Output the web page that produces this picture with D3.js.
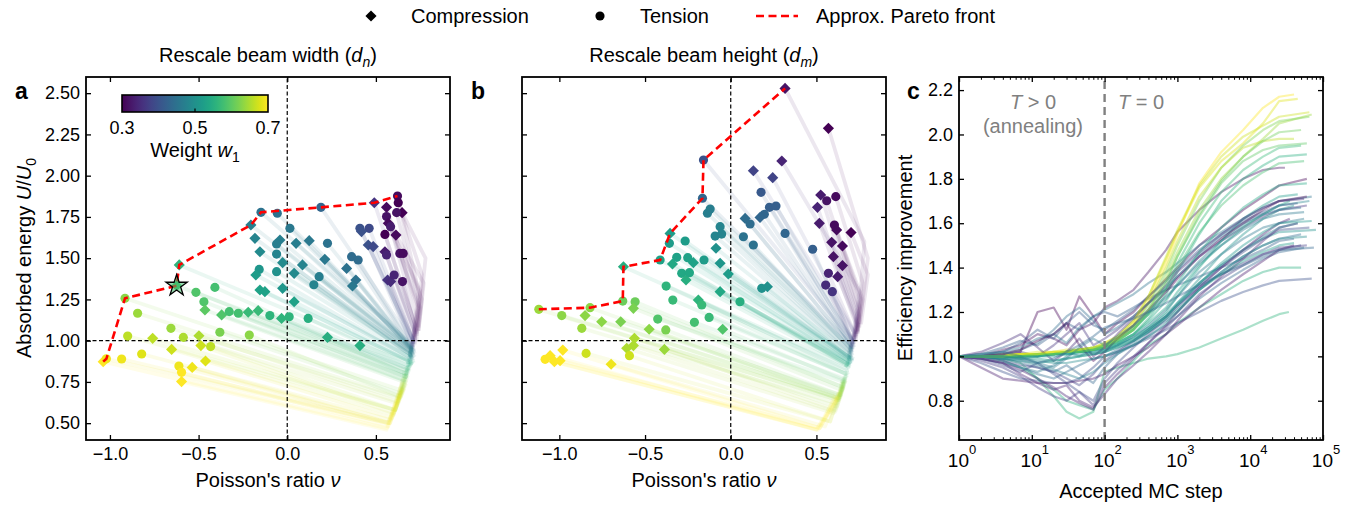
<!DOCTYPE html>
<html>
<head>
<meta charset="utf-8">
<script src="https://d3js.org/d3.v7.min.js"></script>
<style>
body { margin: 0; background: #fff; }
svg text { font-family: "Liberation Sans", Arial, Helvetica, sans-serif; fill: #000; }
</style>
</head>
<body>
<svg class="target" width="1361" height="506"></svg>
<script>

// ---- data ----
// rows: [nu, U/U0, weight w1, marker ('D' compression, 'o' tension), knee nu, knee U, start nu, start U]
const pointsA = [
  [0.622,1.877,0.31,'o',0.74,1.30,0.72,1.02],[0.491,1.836,0.36,'D',0.72,1.10,0.70,0.98],[0.626,1.836,0.30,'o',0.76,1.40,0.73,1.05],
  [0.560,1.808,0.31,'D',0.73,1.20,0.71,1.00],[0.648,1.776,0.30,'D',0.78,1.50,0.74,1.08],[0.617,1.776,0.32,'o',0.74,1.25,0.72,0.99],
  [0.190,1.808,0.43,'o',0.70,1.00,0.71,0.94],[-0.148,1.778,0.45,'o',0.70,0.98,0.69,0.92],[-0.056,1.772,0.45,'o',0.70,0.97,0.70,0.93],
  [-0.205,1.701,0.47,'D',0.69,0.95,0.70,0.90],[-0.609,1.459,0.56,'D',0.68,0.88,0.68,0.86],[-0.624,1.333,0.58,'D',0.67,0.82,0.67,0.84],
  [-0.915,1.257,0.63,'o',0.64,0.70,0.66,0.80],[-1.038,0.873,0.70,'D',0.56,0.47,0.64,0.72],[-1.020,0.890,0.69,'o',0.57,0.50,0.65,0.75],
  [0.560,1.752,0.32,'o',0.74,1.20,0.71,1.01],[0.570,1.711,0.31,'D',0.75,1.30,0.73,1.04],[0.583,1.691,0.33,'o',0.72,1.15,0.71,0.98],
  [0.613,1.640,0.31,'D',0.77,1.35,0.74,1.06],[0.551,1.644,0.30,'o',0.72,1.10,0.72,1.00],[0.551,1.539,0.33,'D',0.72,1.05,0.70,0.97],
  [0.560,1.519,0.34,'o',0.71,1.05,0.71,0.99],[0.635,1.529,0.32,'o',0.75,1.20,0.73,1.03],[0.654,1.529,0.31,'o',0.76,1.25,0.74,1.06],
  [0.566,1.368,0.36,'D',0.71,1.00,0.70,0.95],[0.583,1.358,0.35,'D',0.71,1.00,0.71,0.96],[0.603,1.398,0.34,'o',0.72,1.05,0.72,0.98],
  [0.650,1.358,0.32,'o',0.73,1.05,0.73,1.00],[0.410,1.681,0.40,'o',0.71,1.00,0.70,0.95],[0.462,1.681,0.39,'o',0.71,1.00,0.71,0.96],
  [0.419,1.661,0.40,'D',0.71,1.00,0.72,0.97],[0.457,1.580,0.40,'D',0.70,0.98,0.70,0.94],[0.485,1.570,0.39,'D',0.70,0.98,0.71,0.95],
  [0.363,1.509,0.44,'o',0.70,0.96,0.69,0.92],[0.400,1.489,0.44,'o',0.70,0.96,0.70,0.93],[0.335,1.438,0.45,'D',0.70,0.95,0.71,0.91],
  [0.387,1.368,0.45,'D',0.70,0.95,0.69,0.90],[0.368,1.331,0.46,'D',0.70,0.94,0.70,0.89],[0.227,1.590,0.45,'o',0.70,0.96,0.72,0.92],
  [0.212,1.493,0.46,'D',0.70,0.95,0.69,0.91],[0.180,1.388,0.47,'o',0.70,0.94,0.71,0.90],[0.150,1.339,0.48,'o',0.70,0.93,0.70,0.88],
  [0.124,1.606,0.46,'D',0.70,0.95,0.72,0.93],[0.050,1.590,0.47,'D',0.70,0.95,0.70,0.91],[-0.041,1.610,0.47,'D',0.70,0.95,0.71,0.92],
  [-0.060,1.586,0.47,'o',0.70,0.95,0.69,0.90],[0.015,1.681,0.46,'o',0.70,0.96,0.72,0.94],[-0.060,1.525,0.48,'o',0.69,0.93,0.70,0.89],
  [-0.026,1.473,0.49,'D',0.69,0.92,0.71,0.88],[-0.060,1.418,0.50,'o',0.69,0.92,0.69,0.87],[0.039,1.408,0.49,'D',0.69,0.92,0.70,0.88],
  [0.086,1.459,0.48,'D',0.70,0.93,0.72,0.90],[-0.026,1.317,0.51,'D',0.69,0.90,0.68,0.86],[0.039,1.236,0.53,'D',0.69,0.88,0.70,0.85],
  [-0.182,1.620,0.48,'D',0.69,0.93,0.70,0.90],[-0.154,1.539,0.49,'D',0.69,0.92,0.71,0.89],[-0.158,1.432,0.51,'o',0.69,0.90,0.69,0.86],
  [-0.177,1.398,0.52,'D',0.69,0.90,0.70,0.86],[-0.154,1.307,0.53,'D',0.68,0.88,0.68,0.84],[-0.126,1.297,0.53,'D',0.68,0.88,0.69,0.85],
  [-0.408,1.323,0.58,'o',0.67,0.80,0.68,0.83],[-0.515,1.293,0.59,'o',0.67,0.78,0.67,0.82],[-0.470,1.236,0.59,'o',0.66,0.76,0.68,0.81],
  [-0.464,1.186,0.60,'D',0.66,0.75,0.67,0.80],[-0.370,1.156,0.59,'D',0.66,0.76,0.66,0.82],[-0.327,1.176,0.58,'o',0.67,0.78,0.68,0.84],
  [-0.276,1.166,0.58,'o',0.67,0.78,0.69,0.83],[-0.220,1.172,0.57,'D',0.67,0.80,0.68,0.85],[-0.164,1.182,0.57,'D',0.67,0.80,0.70,0.86],
  [-0.098,1.152,0.56,'o',0.68,0.82,0.69,0.86],[-0.032,1.135,0.56,'D',0.68,0.83,0.70,0.87],[0.011,1.145,0.56,'o',0.68,0.83,0.71,0.88],
  [0.118,1.135,0.55,'o',0.68,0.85,0.70,0.88],[0.227,1.020,0.55,'D',0.68,0.85,0.71,0.87],[0.410,0.970,0.55,'D',0.69,0.87,0.72,0.88],
  [-0.844,1.166,0.64,'o',0.63,0.66,0.66,0.78],[-0.656,1.075,0.64,'o',0.63,0.65,0.67,0.77],[-0.900,1.028,0.66,'o',0.61,0.58,0.65,0.74],
  [-0.759,1.014,0.66,'D',0.61,0.58,0.66,0.75],[-0.586,1.020,0.65,'o',0.62,0.62,0.67,0.76],[-0.498,1.030,0.65,'D',0.62,0.63,0.65,0.77],
  [-0.380,1.051,0.62,'o',0.64,0.68,0.67,0.80],[-0.214,1.034,0.63,'o',0.64,0.66,0.68,0.79],[-0.652,0.947,0.67,'D',0.60,0.55,0.65,0.72],
  [-0.487,0.970,0.67,'D',0.60,0.56,0.66,0.73],[-0.432,0.964,0.66,'o',0.61,0.58,0.67,0.74],[-0.821,0.919,0.68,'o',0.58,0.52,0.64,0.70],
  [-0.934,0.889,0.69,'o',0.57,0.50,0.65,0.71],[-0.461,0.877,0.68,'D',0.59,0.53,0.66,0.71],[-0.611,0.846,0.69,'o',0.58,0.50,0.64,0.69],
  [-0.536,0.838,0.69,'D',0.58,0.50,0.65,0.70],[-0.596,0.808,0.70,'o',0.57,0.48,0.63,0.68],[-0.596,0.752,0.70,'D',0.56,0.46,0.64,0.67]
]

const pointsB = [
  [0.317,2.529,0.32,'D',0.78,1.60,0.74,1.05],[0.570,2.287,0.30,'D',0.80,1.50,0.75,1.08],[0.298,2.089,0.34,'D',0.75,1.30,0.72,1.00],
  [-0.159,2.095,0.40,'o',0.71,1.00,0.70,0.95],[0.132,2.030,0.38,'D',0.72,1.05,0.71,0.97],[0.245,1.988,0.38,'D',0.72,1.05,0.72,0.98],
  [0.177,1.899,0.41,'o',0.71,1.00,0.70,0.94],[-0.165,1.863,0.43,'o',0.70,0.98,0.69,0.93],[0.525,1.883,0.33,'D',0.74,1.20,0.72,1.02],
  [0.560,1.848,0.32,'o',0.75,1.25,0.73,1.03],[0.613,1.873,0.31,'o',0.77,1.35,0.74,1.06],[0.506,1.808,0.34,'D',0.73,1.15,0.71,1.00],
  [0.226,1.808,0.42,'o',0.71,1.00,0.71,0.95],[0.264,1.816,0.42,'o',0.71,1.00,0.72,0.96],[0.196,1.766,0.43,'o',0.70,0.98,0.70,0.93],
  [0.171,1.747,0.43,'D',0.70,0.98,0.71,0.94],[0.084,1.741,0.44,'D',0.70,0.97,0.69,0.92],[0.113,1.707,0.44,'o',0.70,0.97,0.70,0.92],
  [0.517,1.711,0.33,'D',0.73,1.10,0.72,1.00],[0.605,1.701,0.31,'o',0.75,1.20,0.73,1.04],[0.618,1.671,0.31,'D',0.76,1.25,0.74,1.05],
  [0.702,1.655,0.30,'D',0.80,1.40,0.76,1.10],[0.317,1.650,0.43,'o',0.70,0.97,0.71,0.93],[-0.120,1.798,0.47,'o',0.70,0.95,0.70,0.90],
  [-0.136,1.772,0.47,'o',0.70,0.95,0.69,0.89],[-0.062,1.691,0.48,'o',0.69,0.94,0.70,0.89],[-0.091,1.634,0.48,'o',0.69,0.93,0.71,0.88],
  [-0.053,1.646,0.48,'o',0.69,0.93,0.69,0.88],[0.074,1.630,0.45,'o',0.70,0.95,0.71,0.91],[0.132,1.580,0.45,'o',0.70,0.95,0.70,0.90],
  [-0.354,1.650,0.52,'D',0.69,0.90,0.68,0.86],[-0.358,1.590,0.52,'o',0.69,0.90,0.69,0.86],[-0.266,1.604,0.52,'o',0.69,0.90,0.70,0.87],
  [-0.086,1.560,0.50,'D',0.69,0.92,0.70,0.88],[0.589,1.596,0.32,'D',0.74,1.15,0.72,1.01],[0.652,1.574,0.31,'D',0.77,1.25,0.74,1.04],
  [0.599,1.509,0.32,'D',0.74,1.10,0.73,1.00],[0.478,1.554,0.42,'o',0.71,1.00,0.71,0.95],[-0.412,1.489,0.53,'o',0.68,0.88,0.68,0.85],
  [-0.315,1.505,0.53,'o',0.68,0.88,0.69,0.85],[-0.340,1.465,0.54,'D',0.68,0.87,0.67,0.84],[-0.251,1.503,0.53,'o',0.68,0.88,0.70,0.86],
  [-0.218,1.473,0.53,'D',0.68,0.88,0.69,0.85],[-0.156,1.489,0.52,'o',0.69,0.89,0.70,0.86],[-0.062,1.469,0.51,'D',0.69,0.90,0.71,0.87],
  [-0.626,1.448,0.55,'D',0.67,0.85,0.68,0.84],[0.652,1.455,0.32,'D',0.75,1.15,0.73,1.02],[0.570,1.408,0.34,'o',0.72,1.05,0.71,0.98],
  [0.624,1.388,0.33,'D',0.74,1.10,0.72,1.00],[0.554,1.337,0.35,'o',0.71,1.00,0.70,0.96],[0.593,1.297,0.36,'o',0.71,1.00,0.71,0.96],
  [-0.014,1.404,0.52,'D',0.69,0.89,0.70,0.86],[-0.286,1.408,0.54,'o',0.68,0.86,0.68,0.84],[-0.261,1.368,0.55,'D',0.68,0.85,0.69,0.83],
  [-0.241,1.412,0.54,'o',0.68,0.86,0.67,0.84],[-0.377,1.331,0.56,'o',0.67,0.83,0.68,0.82],[-0.062,1.297,0.54,'D',0.68,0.86,0.70,0.85],
  [0.181,1.317,0.50,'o',0.69,0.90,0.71,0.88],[0.214,1.327,0.50,'D',0.69,0.90,0.72,0.89],[0.054,1.236,0.55,'o',0.68,0.85,0.70,0.84],
  [-0.338,1.246,0.57,'o',0.67,0.80,0.68,0.81],[-0.189,1.246,0.56,'D',0.67,0.82,0.69,0.82],[-0.169,1.216,0.57,'o',0.67,0.80,0.68,0.80],
  [-0.630,1.240,0.61,'o',0.65,0.72,0.67,0.78],[-0.558,1.236,0.61,'o',0.65,0.72,0.66,0.78],[-0.568,1.196,0.62,'D',0.65,0.70,0.67,0.77],
  [-0.821,1.200,0.63,'o',0.64,0.66,0.66,0.76],[-1.120,1.190,0.64,'o',0.63,0.64,0.65,0.75],[-0.986,1.152,0.63,'o',0.63,0.64,0.66,0.75],
  [-0.850,1.152,0.63,'D',0.63,0.65,0.67,0.76],[-0.753,1.115,0.63,'D',0.63,0.65,0.65,0.76],[-0.642,1.115,0.62,'D',0.64,0.67,0.66,0.77],
  [-0.426,1.131,0.59,'o',0.66,0.75,0.67,0.79],[-0.212,1.111,0.58,'o',0.66,0.77,0.68,0.80],[-0.126,1.141,0.57,'o',0.67,0.80,0.69,0.81],
  [-0.869,1.075,0.64,'o',0.62,0.62,0.65,0.73],[-0.476,1.069,0.63,'D',0.63,0.65,0.66,0.75],[-0.379,1.065,0.62,'o',0.64,0.67,0.67,0.76],
  [-0.047,1.069,0.59,'D',0.66,0.76,0.68,0.79],[-0.562,1.014,0.65,'D',0.61,0.58,0.65,0.72],[-0.607,0.954,0.65,'D',0.60,0.56,0.64,0.71],
  [-0.568,0.970,0.65,'D',0.61,0.57,0.66,0.72],[-0.387,0.947,0.64,'D',0.62,0.60,0.66,0.73],[-0.591,0.909,0.67,'o',0.58,0.51,0.64,0.69],
  [-0.844,0.923,0.67,'o',0.58,0.51,0.63,0.69],[-0.980,0.943,0.70,'D',0.52,0.47,0.62,0.66],[-1.054,0.909,0.70,'D',0.50,0.46,0.61,0.65],
  [-1.083,0.887,0.70,'o',0.50,0.46,0.62,0.64],[-1.029,0.873,0.70,'D',0.51,0.46,0.63,0.66],[-0.996,0.879,0.70,'D',0.52,0.47,0.61,0.67],
  [-0.698,0.857,0.69,'D',0.55,0.48,0.63,0.68]
]

const paretoA = [[-1.038,0.873],[-1.02,0.89],[-0.915,1.257],[-0.624,1.333],[-0.609,1.459],
                 [-0.205,1.701],[-0.148,1.778],[0.19,1.808],[0.491,1.836],[0.622,1.877]]
const paretoB = [[-1.12,1.19],[-0.821,1.2],[-0.63,1.24],[-0.626,1.448],[-0.412,1.489],
                 [-0.354,1.65],[-0.165,1.863],[-0.159,2.095],[0.317,2.529]]
const starA = [-0.624, 1.333, 0.58]

// panel c: efficiency vs accepted MC step (one row per run; last value sits at cEnds)
const cSteps = [1, 2, 4, 7, 12, 20, 30, 45, 70, 100, 150, 250, 400, 700, 1000, 2000, 4000, 8000, 15000, 25000]
const cWeights = [0.50, 0.56, 0.55, 0.40, 0.44, 0.46, 0.42, 0.43, 0.38, 0.33, 0.34, 0.36, 0.30, 0.32,
                  0.45, 0.48, 0.53, 0.50, 0.52, 0.58, 0.55, 0.60, 0.64, 0.62, 0.66, 0.68, 0.70,
                  0.35, 0.37, 0.41, 0.39, 0.44, 0.47, 0.31, 0.34, 0.57, 0.54, 0.51, 0.49, 0.61, 0.67, 0.43, 0.52, 0.46]
const cEnds = [80000, 34000, 50000, 70000, 50000, 55000, 40000, 55000, 50000, 40000, 45000, 60000, 60000, 30000,
               70000, 65000, 35000, 40000, 45000, 55000, 60000, 60000, 70000, 65000, 40000, 45000, 40000,
               55000, 60000, 45000, 65000, 50000, 45000, 60000, 35000, 50000, 60000, 70000, 60000, 50000, 65000, 75000, 40000, 55000]
const cLines = [
  [1.00,1.00,1.00,1.00,1.01,1.01,1.02,1.02,1.02,1.03,1.05,1.09,1.13,1.19,1.24,1.33,1.41,1.48,1.53,1.56,1.57],
  [1.00,1.00,0.99,0.97,0.90,0.82,0.75,0.72,0.75,0.93,0.95,0.97,0.99,1.00,1.01,1.04,1.08,1.12,1.16,1.19,1.20],
  [1.00,1.00,0.98,0.95,0.90,0.85,0.80,0.78,0.76,0.85,0.90,0.98,1.05,1.10,1.15,1.22,1.28,1.34,1.38,1.40,1.40],
  [1.00,0.97,0.93,0.90,0.89,0.88,0.88,0.90,0.95,1.00,1.02,1.05,1.08,1.12,1.15,1.20,1.25,1.29,1.32,1.34,1.35],
  [1.00,0.99,0.97,0.95,0.92,0.90,0.93,0.96,0.99,1.00,1.03,1.07,1.11,1.16,1.20,1.30,1.38,1.45,1.50,1.53,1.55],
  [1.00,1.00,0.98,0.95,0.93,0.96,1.00,1.03,1.01,1.02,1.05,1.09,1.14,1.21,1.27,1.38,1.46,1.53,1.58,1.60,1.62],
  [1.00,1.01,1.04,1.07,1.05,1.10,1.15,1.12,1.18,1.20,1.18,1.22,1.26,1.30,1.32,1.36,1.40,1.44,1.48,1.52,1.53],
  [1.00,1.00,0.99,0.97,0.95,0.93,0.96,0.92,0.88,0.95,1.01,1.05,1.09,1.14,1.18,1.26,1.33,1.39,1.44,1.47,1.49],
  [1.00,1.00,0.98,0.96,0.95,0.93,0.90,0.87,0.92,0.98,1.02,1.07,1.12,1.18,1.23,1.31,1.37,1.42,1.46,1.48,1.50],
  [1.00,0.95,0.90,0.89,0.88,0.88,0.88,0.89,0.90,0.92,0.96,1.00,1.04,1.10,1.14,1.22,1.30,1.37,1.43,1.48,1.50],
  [1.00,0.99,0.97,0.92,0.88,0.85,0.87,0.80,0.77,0.83,0.90,0.96,1.02,1.10,1.16,1.27,1.36,1.44,1.52,1.58,1.60],
  [1.00,1.00,1.01,1.02,1.00,1.05,1.10,1.15,1.05,1.08,1.12,1.18,1.24,1.30,1.36,1.45,1.52,1.58,1.63,1.66,1.68],
  [1.00,1.00,1.00,1.02,1.20,1.22,1.12,1.27,1.18,1.10,1.15,1.20,1.27,1.35,1.40,1.50,1.58,1.66,1.72,1.77,1.80],
  [1.00,1.00,1.03,1.05,1.10,1.08,1.05,1.12,1.15,1.22,1.25,1.30,1.38,1.48,1.56,1.66,1.74,1.80,1.84,1.85,1.85],
  [1.00,1.01,1.02,1.04,1.08,1.10,1.06,1.13,1.18,1.21,1.24,1.28,1.33,1.38,1.42,1.50,1.56,1.62,1.67,1.70,1.72],
  [1.00,1.00,1.00,0.99,1.00,1.01,1.02,1.00,1.03,1.05,1.08,1.13,1.19,1.26,1.32,1.43,1.52,1.59,1.64,1.68,1.70],
  [1.00,1.00,1.00,1.00,1.00,1.01,1.01,1.02,1.03,1.04,1.06,1.10,1.15,1.22,1.29,1.41,1.50,1.58,1.64,1.68,1.70],
  [1.00,1.00,0.99,0.98,0.97,0.98,0.99,1.00,1.01,1.02,1.04,1.07,1.12,1.18,1.24,1.35,1.46,1.55,1.62,1.66,1.68],
  [1.00,1.00,1.00,1.00,1.01,1.01,1.02,1.02,1.03,1.03,1.05,1.08,1.13,1.20,1.27,1.40,1.52,1.62,1.68,1.72,1.73],
  [1.00,1.00,1.00,1.00,1.01,1.01,1.02,1.02,1.03,1.04,1.07,1.12,1.19,1.30,1.40,1.56,1.68,1.77,1.83,1.87,1.88],
  [1.00,1.00,1.00,1.00,1.01,1.01,1.02,1.02,1.03,1.04,1.06,1.10,1.17,1.28,1.38,1.55,1.70,1.80,1.86,1.90,1.91],
  [1.00,1.00,1.00,1.00,1.01,1.01,1.02,1.02,1.03,1.05,1.07,1.12,1.20,1.33,1.45,1.63,1.78,1.88,1.93,1.95,1.96],
  [1.00,1.00,1.00,1.01,1.01,1.01,1.02,1.03,1.03,1.04,1.07,1.12,1.21,1.36,1.47,1.66,1.80,1.90,1.98,2.05,2.09],
  [1.00,1.00,1.00,1.01,1.01,1.01,1.02,1.03,1.03,1.05,1.08,1.14,1.23,1.38,1.50,1.70,1.85,1.95,2.02,2.06,2.08],
  [1.00,1.00,1.00,1.01,1.01,1.02,1.02,1.03,1.04,1.05,1.08,1.14,1.24,1.40,1.52,1.72,1.85,1.94,1.97,1.98,1.98],
  [1.00,1.00,1.01,1.01,1.02,1.02,1.03,1.03,1.04,1.06,1.09,1.16,1.27,1.44,1.56,1.76,1.88,1.96,2.05,2.15,2.16],
  [1.00,1.00,1.00,1.01,1.01,1.02,1.02,1.03,1.04,1.05,1.08,1.15,1.25,1.42,1.55,1.78,1.92,2.02,2.12,2.17,2.18],
  [1.00,1.02,1.06,1.10,1.04,0.98,1.02,1.08,1.00,1.04,1.10,1.17,1.24,1.32,1.38,1.47,1.55,1.62,1.67,1.70,1.71],
  [1.00,0.98,0.95,0.91,0.86,0.82,0.80,0.84,0.78,0.88,0.94,1.00,1.06,1.13,1.18,1.28,1.35,1.41,1.46,1.49,1.50],
  [1.00,1.00,1.02,1.06,1.12,1.08,1.15,1.20,1.14,1.12,1.16,1.21,1.27,1.34,1.39,1.48,1.55,1.61,1.65,1.68,1.69],
  [1.00,0.99,0.96,0.93,0.97,0.92,0.88,0.84,0.80,0.90,0.97,1.04,1.10,1.17,1.22,1.32,1.40,1.47,1.53,1.57,1.58],
  [1.00,1.00,1.01,1.03,1.06,1.12,1.18,1.22,1.16,1.10,1.13,1.18,1.24,1.31,1.36,1.46,1.54,1.60,1.64,1.66,1.67],
  [1.00,1.00,0.99,0.98,0.96,0.94,0.92,0.90,0.93,0.97,1.01,1.06,1.11,1.18,1.23,1.33,1.41,1.48,1.54,1.58,1.60],
  [1.00,1.00,1.01,1.03,1.07,1.10,1.15,1.05,0.98,1.02,1.08,1.14,1.21,1.29,1.35,1.45,1.53,1.60,1.66,1.70,1.72],
  [1.00,0.99,0.97,0.94,0.90,0.86,0.82,0.79,0.76,0.86,0.92,0.99,1.06,1.14,1.20,1.31,1.40,1.48,1.55,1.60,1.62],
  [1.00,1.00,1.00,1.00,1.01,1.01,1.02,1.03,1.04,1.05,1.07,1.12,1.19,1.31,1.42,1.60,1.74,1.84,1.90,1.94,1.95],
  [1.00,1.00,1.00,1.00,1.00,1.01,1.01,1.02,1.03,1.04,1.06,1.10,1.16,1.25,1.33,1.47,1.58,1.67,1.73,1.77,1.78],
  [1.00,1.00,1.00,1.00,1.00,1.00,1.01,1.01,1.02,1.03,1.05,1.08,1.12,1.18,1.23,1.33,1.42,1.50,1.56,1.60,1.61],
  [1.00,1.00,0.99,0.99,0.98,0.97,0.97,0.98,0.99,1.00,1.02,1.05,1.09,1.15,1.20,1.30,1.38,1.45,1.50,1.53,1.54],
  [1.00,1.00,1.00,1.00,1.01,1.01,1.02,1.02,1.03,1.05,1.08,1.13,1.21,1.34,1.45,1.64,1.79,1.90,1.97,2.01,2.02],
  [1.00,1.00,1.00,1.01,1.01,1.02,1.02,1.03,1.04,1.06,1.09,1.16,1.27,1.45,1.57,1.77,1.90,1.99,2.04,2.08,2.10],
  [1.00,1.00,1.00,0.99,0.97,0.99,1.02,1.05,1.09,1.13,1.15,1.17,1.20,1.24,1.27,1.32,1.37,1.41,1.45,1.48,1.49],
  [1.00,1.00,1.00,0.99,0.99,0.98,0.99,1.00,1.01,1.02,1.04,1.07,1.11,1.17,1.21,1.30,1.37,1.43,1.47,1.50,1.51],
  [1.00,1.01,1.02,1.00,0.97,0.95,0.99,1.04,1.08,1.05,1.09,1.14,1.20,1.27,1.32,1.42,1.50,1.57,1.62,1.64,1.65]
]

const xTicksAB = [-1.0, -0.5, 0.0, 0.5]
const yTicksAB = [0.50, 0.75, 1.00, 1.25, 1.50, 1.75, 2.00, 2.25, 2.50]
const yTicksC = [0.8, 1.0, 1.2, 1.4, 1.6, 1.8, 2.0, 2.2]
const xPowersC = [0, 1, 2, 3, 4, 5]
const cbTicks = [0.3, 0.5, 0.7]

// ---- scales ----
const xA = d3.scaleLinear([-1.135, 0.918], [86, 450])
const xB = d3.scaleLinear([-1.218, 0.906], [522, 886])
const yAB = d3.scaleLinear([0.398, 2.598], [440, 77])
const xC = d3.scaleLog([1, 1e5], [959, 1323])
const yC = d3.scaleLinear([0.623, 2.259], [440, 77])
const color = w => d3.interpolateViridis((w - 0.3) / 0.4)

const svg = d3.select('.target')
const defs = svg.append('defs')

function clip(id, xs, ys) {
  defs.append('clipPath').attr('id', id).append('rect')
    .attr('x', xs.range()[0]).attr('y', ys.range()[1])
    .attr('width', xs.range()[1] - xs.range()[0]).attr('height', ys.range()[0] - ys.range()[1])
}
clip('clipA', xA, yAB); clip('clipB', xB, yAB); clip('clipC', xC, yC)

const diamond = d3.symbol().type(d3.symbolSquare).size(62)
const circle = d3.symbol().type(d3.symbolCircle).size(66)

function scatterPanel(xs, rows, pareto, clipId) {
  const g = svg.append('g').attr('clip-path', `url(#${clipId})`)
  const line = d3.line().x(d => xs(d[0])).y(d => yAB(d[1]))

  // faint optimisation trajectories: start -> knee -> final design
  g.append('g').selectAll('path')
    .data(rows)
    .join('path')
      .attr('d', d => line([[d[0], d[1]], [d[4], d[5]], [d[6], d[7]]]))
      .attr('fill', 'none')
      .attr('stroke', d => color(d[2]))
      .attr('stroke-width', 3.8)
      .attr('stroke-opacity', 0.1)
      .attr('stroke-linejoin', 'round')

  // zero lines
  g.append('line')
    .attr('x1', xs.range()[0]).attr('x2', xs.range()[1])
    .attr('y1', yAB(1)).attr('y2', yAB(1))
    .attr('stroke', '#000').attr('stroke-width', 1.2).attr('stroke-dasharray', '4,2.5')
  g.append('line')
    .attr('x1', xs(0)).attr('x2', xs(0))
    .attr('y1', yAB.range()[0]).attr('y2', yAB.range()[1])
    .attr('stroke', '#000').attr('stroke-width', 1.2).attr('stroke-dasharray', '4,2.5')

  g.append('g').selectAll('path')
    .data(rows)
    .join('path')
      .attr('d', d => d[3] === 'D' ? diamond() : circle())
      .attr('transform', d => `translate(${xs(d[0])},${yAB(d[1])})` + (d[3] === 'D' ? ' rotate(45)' : ''))
      .attr('fill', d => color(d[2]))

  g.append('path')
    .attr('d', line(pareto))
    .attr('fill', 'none')
    .attr('stroke', '#ff0000')
    .attr('stroke-width', 2.6)
    .attr('stroke-dasharray', '8,4.5')
  return g
}

const gA = scatterPanel(xA, pointsA, paretoA, 'clipA')
scatterPanel(xB, pointsB, paretoB, 'clipB')

gA.append('path')
  .attr('d', d3.symbol().type(d3.symbolStar).size(140)())
  .attr('transform', `translate(${xA(starA[0])},${yAB(starA[1])})`)
  .attr('fill', color(starA[2]))
  .attr('fill-opacity', 0.55)
  .attr('stroke', '#000')
  .attr('stroke-width', 1.3)

// ---- panel c lines ----
const gC = svg.append('g').attr('clip-path', 'url(#clipC)')
const lineC = d3.line().x(d => xC(d[0])).y(d => yC(d[1]))
gC.append('g').selectAll('path')
  .data(cLines.map((vals, i) => ({ w: cWeights[i], pts: vals.map((v, j) => [j < cSteps.length ? cSteps[j] : cEnds[i], v]) })))
  .join('path')
    .attr('d', d => lineC(d.pts))
    .attr('fill', 'none')
    .attr('stroke', d => color(d.w))
    .attr('stroke-width', 2.2)
    .attr('stroke-opacity', 0.4)
    .attr('stroke-linejoin', 'round')

svg.append('line')
  .attr('x1', xC(100)).attr('x2', xC(100))
  .attr('y1', yC.range()[0]).attr('y2', yC.range()[1])
  .attr('stroke', '#808080').attr('stroke-width', 2.4).attr('stroke-dasharray', '8,5')

// ---- axes ----
function inward(axis, size) { return axis.tickSizeInner(-size).tickSizeOuter(0) }

function axesFor(xs, ys, xt, yt, xfmt, yfmt) {
  const [x0, x1] = xs.range(), [y1, y0] = ys.range()
  const b = svg.append('g').attr('transform', `translate(0,${y1})`)
    .call(inward(d3.axisBottom(xs), 5).tickValues(xt).tickFormat(xfmt).tickPadding(7))
  const l = svg.append('g').attr('transform', `translate(${x0},0)`)
    .call(inward(d3.axisLeft(ys), 5).tickValues(yt).tickFormat(yfmt).tickPadding(6))
  const t = svg.append('g').attr('transform', `translate(0,${y0})`)
    .call(inward(d3.axisTop(xs), 5).tickValues(xt).tickFormat(''))
  const r = svg.append('g').attr('transform', `translate(${x1},0)`)
    .call(inward(d3.axisRight(ys), 5).tickValues(yt).tickFormat(''))
  for (const g of [b, l, t, r]) {
    g.select('.domain').remove()
    g.attr('font-size', 18).attr('font-family', null)
    g.selectAll('line').attr('stroke-width', 1.3)
  }
  svg.append('rect')
    .attr('x', x0).attr('y', y0).attr('width', x1 - x0).attr('height', y1 - y0)
    .attr('fill', 'none').attr('stroke', '#000').attr('stroke-width', 1.8)
}

axesFor(xA, yAB, xTicksAB, yTicksAB, d3.format('.1f'), d3.format('.2f'))
axesFor(xB, yAB, xTicksAB, yTicksAB, d3.format('.1f'), '')
axesFor(xC, yC, xPowersC.map(p => Math.pow(10, p)), yTicksC, '', d3.format('.1f'))

// minor log ticks for panel c
const minor = []
xPowersC.slice(0, -1).forEach(p => { for (let k = 2; k < 10; k++) minor.push(k * Math.pow(10, p)) })
for (const [axis, ty] of [[d3.axisBottom(xC), 440], [d3.axisTop(xC), 77]]) {
  const g = svg.append('g').attr('transform', `translate(0,${ty})`)
    .call(inward(axis, 2.8).tickValues(minor).tickFormat(''))
  g.select('.domain').remove()
  g.selectAll('line').attr('stroke-width', 1)
}

// 10^k labels
const lg = svg.append('g').attr('font-size', 19).attr('text-anchor', 'middle')
xPowersC.forEach(p => {
  const t = lg.append('text').attr('x', xC(Math.pow(10, p)) + 3).attr('y', 467)
  t.append('tspan').text('10')
  t.append('tspan').attr('font-size', 13).attr('dy', -13).text(p)
})

// ---- texts ----
function txt(x, y, s, size, anchor) {
  return svg.append('text').attr('x', x).attr('y', y).attr('font-size', size)
    .attr('text-anchor', anchor || 'middle').text(s)
}

txt(15, 99, 'a', 23, 'start').attr('font-weight', 'bold')
txt(471, 99, 'b', 23, 'start').attr('font-weight', 'bold')
txt(907, 99, 'c', 23, 'start').attr('font-weight', 'bold')

function titled(x, y, pre, it, sub) {
  const t = txt(x, y, pre, 20)
  t.append('tspan').attr('font-style', 'italic').text(it)
  t.append('tspan').attr('font-style', 'italic').attr('font-size', 14).attr('dy', 5).text(sub)
  t.append('tspan').attr('dy', -5).text(')')
  return t
}
titled(268, 62, 'Rescale beam width (', 'd', 'n')
titled(704, 62, 'Rescale beam height (', 'd', 'm')

function nuLabel(x) {
  const t = txt(x, 487, "Poisson's ratio ", 20)
  t.append('tspan').attr('font-style', 'italic').text('ν')
}
nuLabel(268); nuLabel(704)
txt(1141, 498, 'Accepted MC step', 20)

const yl = svg.append('text').attr('transform', 'translate(31,258) rotate(-90)')
  .attr('font-size', 20).attr('text-anchor', 'middle').text('Absorbed energy ')
yl.append('tspan').attr('font-style', 'italic').text('U')
yl.append('tspan').text('/')
yl.append('tspan').attr('font-style', 'italic').text('U')
yl.append('tspan').attr('font-size', 14).attr('dy', 5).text('0')

svg.append('text').attr('transform', 'translate(912,258) rotate(-90)')
  .attr('font-size', 20).attr('text-anchor', 'middle').text('Efficiency improvement')

// annotations in c
const t1 = txt(1033, 109, '', 20).style('fill', '#808080')
t1.append('tspan').attr('font-style', 'italic').text('T')
t1.append('tspan').text(' > 0')
txt(1033, 133, '(annealing)', 20).style('fill', '#808080')
const t2 = txt(1141, 109, '', 20).style('fill', '#808080')
t2.append('tspan').attr('font-style', 'italic').text('T')
t2.append('tspan').text(' = 0')

// ---- colorbar ----
const cb = d3.scaleLinear([0.3, 0.7], [122, 268])
const grad = defs.append('linearGradient').attr('id', 'vir')
d3.range(0, 1.0001, 0.05).forEach(f => {
  grad.append('stop').attr('offset', f).attr('stop-color', d3.interpolateViridis(f))
})
svg.append('rect').attr('x', cb(0.3)).attr('y', 95).attr('width', cb(0.7) - cb(0.3)).attr('height', 17)
  .attr('fill', 'url(#vir)').attr('stroke', '#000').attr('stroke-width', 1.6)
svg.append('line').attr('x1', cb(0.5)).attr('x2', cb(0.5)).attr('y1', 112).attr('y2', 108.5)
  .attr('stroke', '#000').attr('stroke-width', 1.2)
cbTicks.forEach(v => txt(cb(v), 134, d3.format('.1f')(v), 18))
const wl = txt(195, 157, 'Weight ', 20)
wl.append('tspan').attr('font-style', 'italic').text('w')
wl.append('tspan').attr('font-size', 14).attr('dy', 5).text('1')

// ---- legend ----
svg.append('path').attr('d', diamond()).attr('transform', 'translate(371,16) rotate(45)').attr('fill', '#000')
txt(411, 23, 'Compression', 20, 'start')
svg.append('path').attr('d', circle()).attr('transform', 'translate(600,16)').attr('fill', '#000')
txt(640, 23, 'Tension', 20, 'start')
svg.append('line').attr('x1', 756).attr('x2', 798).attr('y1', 16).attr('y2', 16)
  .attr('stroke', '#ff0000').attr('stroke-width', 2.6).attr('stroke-dasharray', '8,4.5')
txt(816, 23, 'Approx. Pareto front', 20, 'start')

</script>
</body>
</html>
